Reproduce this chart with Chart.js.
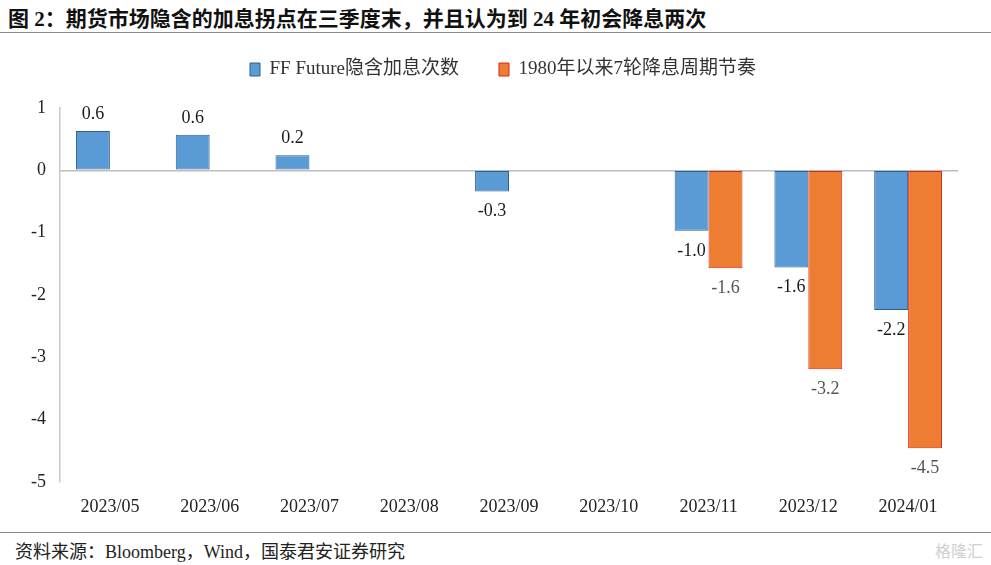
<!DOCTYPE html>
<html>
<head>
<meta charset="utf-8">
<script src="https://cdn.jsdelivr.net/npm/chart.js@4/dist/chart.umd.min.js"></script>
<style>
  html, body { margin:0; padding:0; background:#fff; }
  body { width:991px; height:565px; position:relative; overflow:hidden;
         font-family:"Liberation Serif","Noto Sans CJK SC",serif; }
  #title { position:absolute; left:8px; top:2px; font-size:21px; font-weight:bold; color:#111;
           font-family:"Liberation Serif","Noto Sans CJK SC",serif; white-space:nowrap; }
  #tline { position:absolute; left:0; top:32px; width:991px; height:0; border-top:1.5px solid #8a8a8a; }
  #wrap { position:absolute; left:0; top:20px; width:991px; height:505px; }
  #bline { position:absolute; left:0; top:532px; width:991px; height:0; border-top:1.5px solid #8a8a8a; }
  #foot { position:absolute; left:15px; top:537px; font-size:18px; color:#222; white-space:nowrap; }
  #wm { position:absolute; right:8px; top:538px; font-size:16px; color:#cfcfcf; font-family:"Noto Sans CJK SC",sans-serif; }
</style>
</head>
<body>
<div id="title">图 2：期货市场隐含的加息拐点在三季度末，并且认为到 24 年初会降息两次</div>
<div id="tline"></div>
<div id="bline"></div>
<div id="foot">资料来源：Bloomberg，Wind，国泰君安证券研究</div>
<div id="wm">格隆汇</div>
<div id="wrap"><canvas id="c" width="991" height="505"></canvas></div>
<script>
const categories = ["2023/05","2023/06","2023/07","2023/08","2023/09","2023/10","2023/11","2023/12","2024/01"];
const seriesNames = ["FF Future隐含加息次数","1980年以来7轮降息周期节奏"];
const ffFuture = [0.63, 0.57, 0.24, null, -0.34, null, -0.97, -1.56, -2.24];
const cutCycle = [null, null, null, null, null, null, -1.57, -3.19, -4.46];
const yTicks = [1, 0, -1, -2, -3, -4, -5];

const FONT = '"Liberation Serif","Noto Sans CJK SC",serif';

const labelPlugin = {
  id: 'valueLabels',
  afterDatasetsDraw(chart) {
    const ctx = chart.ctx;
    ctx.save();
    ctx.font = '18px ' + FONT;
    ctx.textAlign = 'center';
    ctx.textBaseline = 'middle';
    chart.data.datasets.forEach((ds, di) => {
      const meta = chart.getDatasetMeta(di);
      meta.data.forEach((el, i) => {
        const v = ds.data[i];
        if (v === null || v === undefined) return;
        ctx.fillStyle = di === 0 ? '#1a1a1a' : '#555555';
        const y = v >= 0 ? el.y - 17 : el.y + 20;
        ctx.fillText(v.toFixed(1), el.x, y);
      });
    });
    ctx.restore();
  }
};

const legendGap = {
  id: 'legendGap',
  beforeInit(chart) {
    const orig = chart.legend.fit;
    chart.legend.fit = function () {
      orig.bind(chart.legend)();
      this.height += 19;
    };
  },
  afterLayout(chart) {
    chart.legend.left += 40;
  }
};

new Chart(document.getElementById('c'), {
  type: 'bar',
  data: {
    labels: categories,
    datasets: [
      { label: seriesNames[0], data: ffFuture, backgroundColor: '#5B9BD5', borderColor: '#2F5F8F', borderWidth: 1, borderSkipped: false },
      { label: seriesNames[1], data: cutCycle, backgroundColor: '#ED7D31', borderColor: '#D8261A', borderWidth: 1, borderSkipped: false }
    ]
  },
  options: {
    responsive: false,
    animation: false,
    devicePixelRatio: 1,
    categoryPercentage: 0.68,
    barPercentage: 1.0,
    layout: { padding: { left: 8, right: 33, top: 0, bottom: 0 } },
    plugins: {
      legend: {
        position: 'top',
        labels: {
          font: { family: FONT, size: 19 },
          color: '#333',
          boxWidth: 10,
          boxHeight: 13,
          padding: 40
        }
      },
      tooltip: { enabled: false }
    },
    scales: {
      x: {
        grid: { display: false },
        border: { display: false },
        ticks: { font: { family: FONT, size: 18 }, color: '#222', padding: 6, maxRotation: 0, autoSkip: false },
        afterFit(s) { s.height = 43; }
      },
      y: {
        min: -5, max: 1,
        afterBuildTicks(s) { s.ticks = yTicks.map(v => ({ value: v })); },
        grid: {
          color: c => (c.tick && c.tick.value === 0) ? '#bdbdbd' : 'rgba(0,0,0,0)',
          lineWidth: 1.5,
          drawTicks: false
        },
        border: { display: true, color: '#c8c8c8', width: 1.5 },
        ticks: { font: { family: FONT, size: 18 }, color: '#222', padding: 14 },
        afterFit(s) { s.width = 52; }
      }
    }
  },
  plugins: [labelPlugin, legendGap]
});
</script>
</body>
</html>
